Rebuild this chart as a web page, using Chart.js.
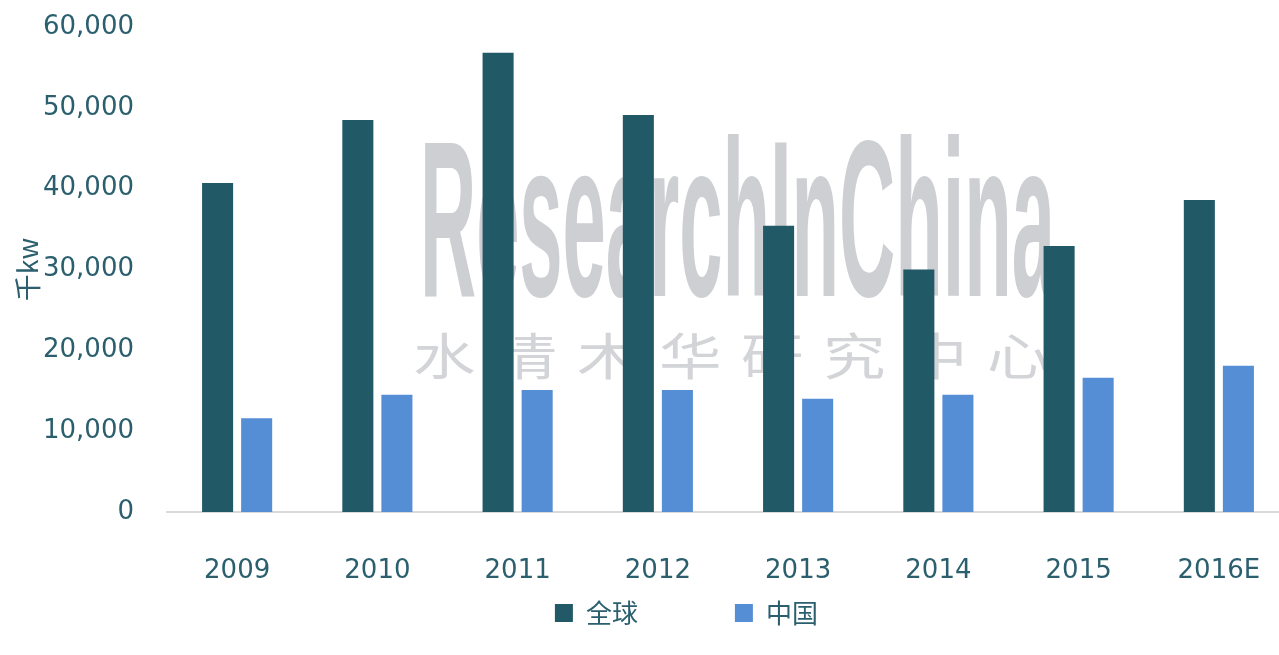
<!DOCTYPE html>
<html><head><meta charset="utf-8">
<script src="https://cdn.jsdelivr.net/npm/chart.js@4"></script>
<style>
html,body{margin:0;padding:0;background:#fff;overflow:hidden;}
#wrap{width:1279px;height:655px;overflow:hidden;position:relative;background:#fff;}
canvas{position:absolute;left:0;top:0;}
</style></head><body>
<div id="wrap"><canvas id="c" width="1290" height="655" style="width:1290px;height:655px;"></canvas></div>
<script>
const categories = ['2009','2010','2011','2012','2013','2014','2015','2016E'];
const globalValues = [40700, 48500, 56800, 49100, 35400, 30000, 32900, 38600];
const chinaValues  = [11600, 14500, 15100, 15100, 14000, 14500, 16600, 18100];
const seriesNames = ['全球', '中国'];
const yAxisTitle = '千kw';
const yMin = 0, yMax = 60000, yStep = 10000;

const textColor = '#2b5f6e';

const watermark = {
  id: 'watermark',
  beforeDatasetsDraw(chart) {
    const ctx = chart.ctx;
    ctx.save();
    ctx.fillStyle = '#cdcfd3';
    ctx.font = 'bold 222px "Liberation Sans"';
    ctx.textBaseline = 'alphabetic';
    const txt = 'ResearchInChina';
    const w = ctx.measureText(txt).width;
    const targetW = 635;
    ctx.translate(420, 296);
    ctx.scale(targetW / w, 1);
    ctx.fillText(txt, 0, 0);
    ctx.restore();
    ctx.save();
    ctx.fillStyle = '#d3d4d7';
    ctx.font = '400 50px "Noto Sans CJK SC"';
    ctx.textBaseline = 'middle';
    const cn = '水清木华研究中心';
    for (let i = 0; i < cn.length; i++) {
      ctx.save();
      ctx.translate(413 + i * 82, 356);
      ctx.scale(1.25, 1);
      ctx.fillText(cn[i], 0, 0);
      ctx.restore();
    }
    ctx.restore();
  }
};

const ctx = document.getElementById('c').getContext('2d');
new Chart(ctx, {
  type: 'bar',
  data: {
    labels: categories,
    datasets: [
      { label: seriesNames[0], data: globalValues, backgroundColor: '#215967', borderWidth: 0,
        categoryPercentage: 0.557, barPercentage: 0.795 },
      { label: seriesNames[1], data: chinaValues, backgroundColor: '#558ed5', borderWidth: 0,
        categoryPercentage: 0.557, barPercentage: 0.795 }
    ]
  },
  options: {
    responsive: false,
    animation: false,
    layout: { padding: { top: 27, right: 1, bottom: 19, left: 0 } },
    plugins: {
      tooltip: { enabled: false },
      legend: {
        position: 'bottom',
        fullSize: false,
        align: 'center',
        labels: {
          boxWidth: 18, boxHeight: 18, padding: 19,
          color: textColor,
          font: { family: '"Noto Sans CJK SC"', size: 26 },
          generateLabels(chart) {
            const items = Chart.defaults.plugins.legend.labels.generateLabels(chart);
            items.forEach((it, i) => {
              it.lineWidth = 0;
              if (i === 0) it.text = it.text + '\u3000\u3000\u3000';
              if (i === 1) it.text = it.text + '\u3000\u3000\u3000\u2009';
            });
            return items;
          }
        }
      }
    },
    scales: {
      x: {
        grid: { display: false, drawTicks: false },
        border: { display: true, color: '#d9d9d9', width: 2 },
        ticks: { color: textColor, font: { family: '"DejaVu Sans"', size: 26 }, padding: 44, maxRotation: 0, autoSkip: false },
        afterFit(scale) { scale.height = 69; scale.paddingLeft = 0; scale.paddingRight = 0; }
      },
      y: {
        min: yMin, max: yMax,
        grid: { display: false, drawTicks: false },
        border: { display: false },
        ticks: {
          stepSize: yStep,
          color: textColor,
          font: { family: '"DejaVu Sans"', size: 26 },
          padding: 33,
          callback: v => v.toLocaleString('en-US')
        },
        title: {
          display: true, text: yAxisTitle, color: textColor,
          font: { family: '"Noto Sans CJK SC"', size: 27 },
          padding: { top: 12, bottom: 0 }
        },
        afterFit(scale) { scale.width = 167; scale.paddingTop = 0; scale.paddingBottom = 0; }
      }
    }
  },
  plugins: [watermark]
});
</script>
</body></html>
